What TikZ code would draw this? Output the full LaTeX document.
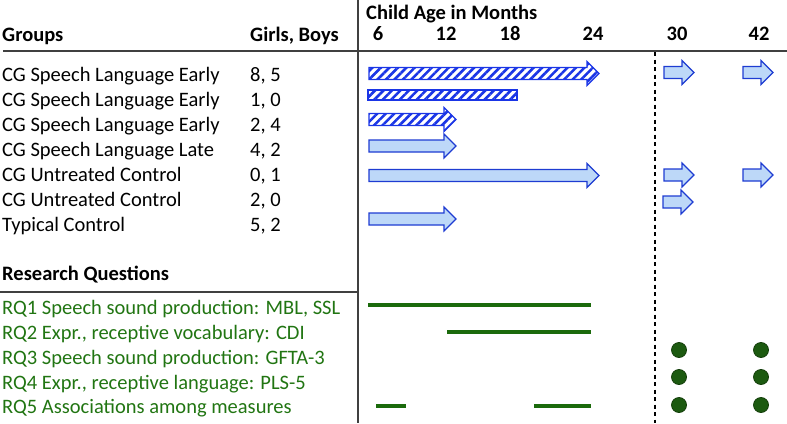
\documentclass[tikz,border=0pt]{standalone}
\usepackage{fontspec}
\setmainfont{Carlito}
\usetikzlibrary{patterns.meta}
\definecolor{stripeblue}{HTML}{1A35E6}
\definecolor{edgeblue}{HTML}{1E3CD2}
\definecolor{fillblue}{HTML}{BDD8F8}
\definecolor{rqgreen}{HTML}{217512}
\definecolor{linegreen}{HTML}{1B6A0C}
\definecolor{dotgreen}{HTML}{1C5A10}
\definecolor{rulegray}{HTML}{404040}
\tikzset{
  txt/.style={anchor=base west, inner sep=0pt, font=\fontsize{20.5}{24}\selectfont},
  hdr/.style={txt, font=\fontsize{20.5}{24}\selectfont\bfseries},
  tick/.style={anchor=base, inner sep=0pt, font=\fontsize{20.5}{24}\selectfont\bfseries},
  rq/.style={txt, text=rqgreen},
  striped/.style={draw=stripeblue, line width=1.2pt, pattern={Lines[angle=45,distance=6pt,line width=2.6pt]}, pattern color=stripeblue},
  solidarr/.style={draw=edgeblue, line width=1.2pt, fill=fillblue, line join=miter},
  rqline/.style={draw=linegreen, line width=4pt},
  rqdot/.style={circle, draw=dotgreen!70!black, fill=dotgreen, minimum size=15pt, inner sep=0pt, line width=0.8pt}
}
% block arrow: x start, x tip, y center, style
\newcommand\blockarrow[4]{%
  \fill[white] (#1,#3-6) -- (#2-12,#3-6) -- (#2-12,#3-12) -- (#2,#3) -- (#2-12,#3+12) -- (#2-12,#3+6) -- (#1,#3+6) -- cycle;
  \path[#4] (#1,#3-6) -- (#2-12,#3-6) -- (#2-12,#3-12) -- (#2,#3) -- (#2-12,#3+12) -- (#2-12,#3+6) -- (#1,#3+6) -- cycle;
}
\begin{document}
\begin{tikzpicture}[x=1pt,y=-1pt]
\useasboundingbox (0,0) rectangle (787,423);
% rules
\draw[rulegray, line width=2pt] (358,0) -- (358,423);
\draw[rulegray, line width=2pt] (3,51) -- (787,51);
\draw[rulegray, line width=2pt] (0,291.5) -- (358,291.5);
\draw[black, line width=1.3pt, dash pattern=on 4pt off 3.5pt] (655,52) -- (655,423);
% headers
\node[hdr] (hgroups) at (2,41) {Groups};
\node[hdr] (hgb) at (250,41) {Girls, Boys};
\node[hdr] (hage) at (366,19.5) {Child Age in Months};
\node[tick] (t6) at (378,40) {6};
\node[tick] (t12) at (446,40) {12};
\node[tick] (t18) at (510,40) {18};
\node[tick] (t24) at (593,40) {24};
\node[tick] (t30) at (677,40) {30};
\node[tick] (t42) at (759,40) {42};
% groups
\node[txt] (g1) at (2,81.5) {CG Speech Language Early};
\node[txt] (g2) at (2,106.5) {CG Speech Language Early};
\node[txt] (g3) at (2,131.5) {CG Speech Language Early};
\node[txt] (g4) at (2,156.5) {CG Speech Language Late};
\node[txt] (g5) at (2,181.5) {CG Untreated Control};
\node[txt] (g6) at (2,206.5) {CG Untreated Control};
\node[txt] (g7) at (2,231) {Typical Control};
\node[txt] (n1) at (250,81.5) {8, 5};
\node[txt] (n2) at (250,106.5) {1, 0};
\node[txt] (n3) at (250,131.5) {2, 4};
\node[txt] (n4) at (250,156.5) {4, 2};
\node[txt] (n5) at (250,181.5) {0, 1};
\node[txt] (n6) at (250,206.5) {2, 0};
\node[txt] (n7) at (250,231) {5, 2};
% arrows
\blockarrow{369}{599}{73.5}{striped}
\fill[white] (368,90) rectangle (517,100);
\path[striped] (368,90) rectangle (517,100);
\blockarrow{369}{456}{119.5}{striped}
\blockarrow{369}{456}{146}{solidarr}
\blockarrow{369}{599}{175.5}{solidarr}
\blockarrow{369}{456}{219}{solidarr}
\blockarrow{664}{694}{72.5}{solidarr}
\blockarrow{743}{773}{72.5}{solidarr}
\blockarrow{664}{694}{175}{solidarr}
\blockarrow{743}{773}{175}{solidarr}
\blockarrow{663}{693}{202}{solidarr}
% research questions
\node[hdr] (hrq) at (2,280.5) {Research Questions};
\node[rq] (rq1) at (2,314) {RQ1 Speech sound production: MBL, SSL};
\node[rq] (rq2) at (2,339) {RQ2 Expr., receptive vocabulary: CDI};
\node[rq] (rq3) at (2,364) {RQ3 Speech sound production: GFTA-3};
\node[rq] (rq4) at (2,389) {RQ4 Expr., receptive language: PLS-5};
\node[rq] (rq5) at (2,413.5) {RQ5 Associations among measures};
\draw[rqline] (368,305) -- (591,305);
\draw[rqline] (447,332) -- (591,332);
\draw[rqline] (376,406) -- (406,406);
\draw[rqline] (534,406) -- (591,406);
\node[rqdot] (d31) at (679,350) {};
\node[rqdot] (d32) at (761,350) {};
\node[rqdot] (d41) at (679,377) {};
\node[rqdot] (d42) at (761,377) {};
\node[rqdot] (d51) at (679,405) {};
\node[rqdot] (d52) at (761,405) {};
\end{tikzpicture}
\end{document}
